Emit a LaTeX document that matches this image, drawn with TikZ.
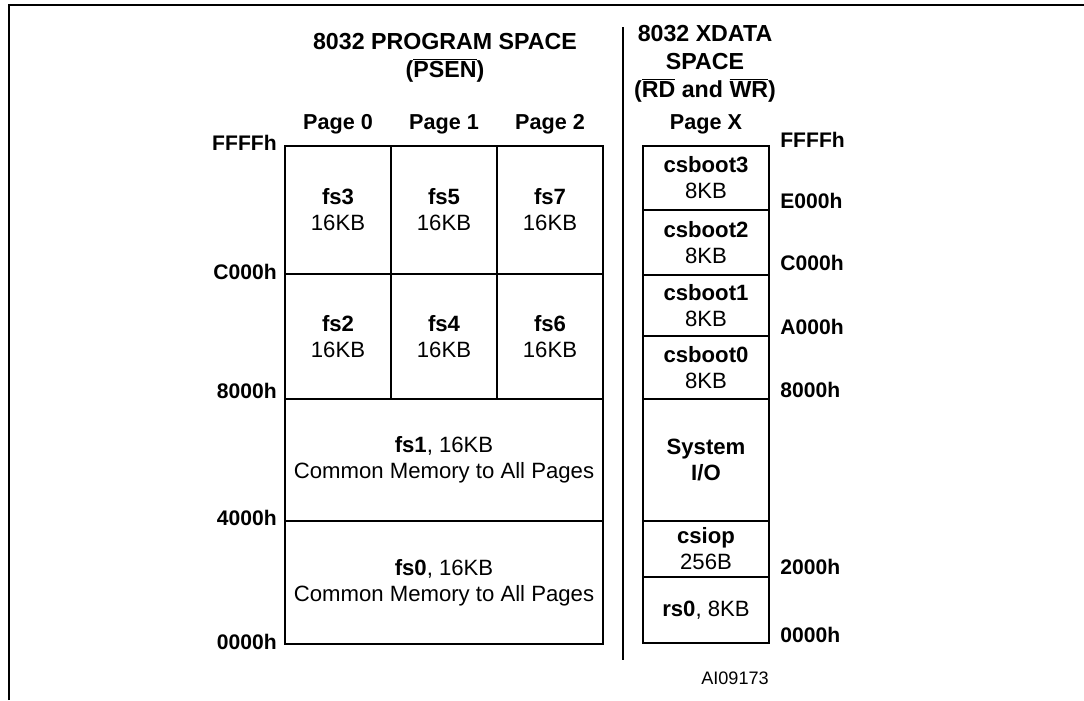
\documentclass[tikz,border=0pt]{standalone}
\usepackage{fontspec}
\setmainfont{Liberation Sans}
\usepackage{tikz}
\usetikzlibrary{positioning}

\begin{document}
\begin{tikzpicture}[
  font=\fontsize{12.6}{14.8}\selectfont,
  % Memory block (page area)
  cell/.style={rectangle, draw, line width=1.4pt, inner sep=0pt,
               align=center, fill=white},
  % Page column cell (16KB)
  pgcell/.style={cell, minimum width=2.12cm},
  % XDATA column cell
  xcell/.style={cell, minimum width=2.52cm},
  % Address labels (bold, no box)
  addr/.style={font=\fontsize{12}{14}\selectfont\bfseries, inner sep=0pt},
  hdr/.style={font=\fontsize{12.3}{14}\selectfont\bfseries, inner sep=0pt},
  ttl/.style={font=\fontsize{13.2}{16}\selectfont\bfseries, align=center, inner sep=0pt}
]
\useasboundingbox (0,0) rectangle (21.68,-14.0);

% ── Figure frame ───────────────────────────────────────────────────────────
\coordinate (frbot) at (0.18,-14.0);
\coordinate (frtop) at (21.68,-0.10);
\draw[line width=1.6pt] (frbot) |- (frtop);

% ── Titles ────────────────────────────────────────────────────────────────
\node[ttl] (progttl) at (8.90,-1.16)
  {8032 PROGRAM SPACE\\($\overline{\mbox{PSEN}}$)};
\node[ttl] (xdatttl) at (14.10,-1.27)
  {8032 XDATA\\SPACE\\($\overline{\mbox{RD}}$ and $\overline{\mbox{WR}}$)};

% ── Page headers ──────────────────────────────────────────────────────────
\node[hdr] (pg0) at (6.76,-2.48)  {Page 0};
\node[hdr] (pg1) at (8.88,-2.48)  {Page 1};
\node[hdr] (pg2) at (11.00,-2.48) {Page 2};
\node[hdr] (pgx) at (14.12,-2.48) {Page X};

% ── Program space: paged blocks ───────────────────────────────────────────
\node[pgcell, minimum height=2.56cm] (fs3) at (6.76,-4.20)  {\textbf{fs3}\\16KB};
\node[pgcell, minimum height=2.56cm] (fs5) at (8.88,-4.20)  {\textbf{fs5}\\16KB};
\node[pgcell, minimum height=2.56cm] (fs7) at (11.00,-4.20) {\textbf{fs7}\\16KB};
\node[pgcell, minimum height=2.50cm] (fs2) at (6.76,-6.73)  {\textbf{fs2}\\16KB};
\node[pgcell, minimum height=2.50cm] (fs4) at (8.88,-6.73)  {\textbf{fs4}\\16KB};
\node[pgcell, minimum height=2.50cm] (fs6) at (11.00,-6.73) {\textbf{fs6}\\16KB};

% common blocks span all three pages
\node[cell, minimum width=6.36cm, minimum height=2.44cm] (fs1) at (8.88,-9.20)
  {\textbf{fs1}, 16KB\\Common Memory to All Pages};
\node[cell, minimum width=6.36cm, minimum height=2.46cm] (fs0) at (8.88,-11.65)
  {\textbf{fs0}, 16KB\\Common Memory to All Pages};

% ── Program space addresses ───────────────────────────────────────────────
\node[addr, anchor=east] (pffff) at (5.54,-2.86)  {FFFFh};
\node[addr, anchor=east] (pc000) at (5.54,-5.44)  {C000h};
\node[addr, anchor=east] (p8000) at (5.54,-7.82)  {8000h};
\node[addr, anchor=east] (p4000) at (5.54,-10.36) {4000h};
\node[addr, anchor=east] (p0000) at (5.54,-12.84) {0000h};

% ── Separator between the two spaces ──────────────────────────────────────
\coordinate (septop) at (12.46,-0.54);
\coordinate (sepbot) at (12.46,-13.20);
\draw[line width=1.4pt] (septop) -- (sepbot);

% ── XDATA space ───────────────────────────────────────────────────────────
\node[xcell, minimum height=1.28cm] (cb3)   at (14.12,-3.56)  {\textbf{csboot3}\\8KB};
\node[xcell, minimum height=1.30cm] (cb2)   at (14.12,-4.85)  {\textbf{csboot2}\\8KB};
\node[xcell, minimum height=1.22cm] (cb1)   at (14.12,-6.11)  {\textbf{csboot1}\\8KB};
\node[xcell, minimum height=1.26cm] (cb0)   at (14.12,-7.35)  {\textbf{csboot0}\\8KB};
\node[xcell, minimum height=2.44cm] (sysio) at (14.12,-9.20)  {\textbf{System}\\\textbf{I/O}};
\node[xcell, minimum height=1.12cm] (csiop) at (14.12,-10.98) {\textbf{csiop}\\256B};
\node[xcell, minimum height=1.32cm] (rs0)   at (14.12,-12.20) {\textbf{rs0}, 8KB};

% ── XDATA addresses ───────────────────────────────────────────────────────
\node[addr, anchor=west] (xffff) at (15.60,-2.80)  {FFFFh};
\node[addr, anchor=west] (xe000) at (15.60,-4.02)  {E000h};
\node[addr, anchor=west] (xc000) at (15.60,-5.26)  {C000h};
\node[addr, anchor=west] (xa000) at (15.60,-6.54)  {A000h};
\node[addr, anchor=west] (x8000) at (15.60,-7.80)  {8000h};
\node[addr, anchor=west] (x2000) at (15.60,-11.34) {2000h};
\node[addr, anchor=west] (x0000) at (15.60,-12.70) {0000h};

\node[font=\fontsize{10.3}{12}\selectfont] (figid) at (14.70,-13.56) {AI09173};

\end{tikzpicture}
\end{document}
